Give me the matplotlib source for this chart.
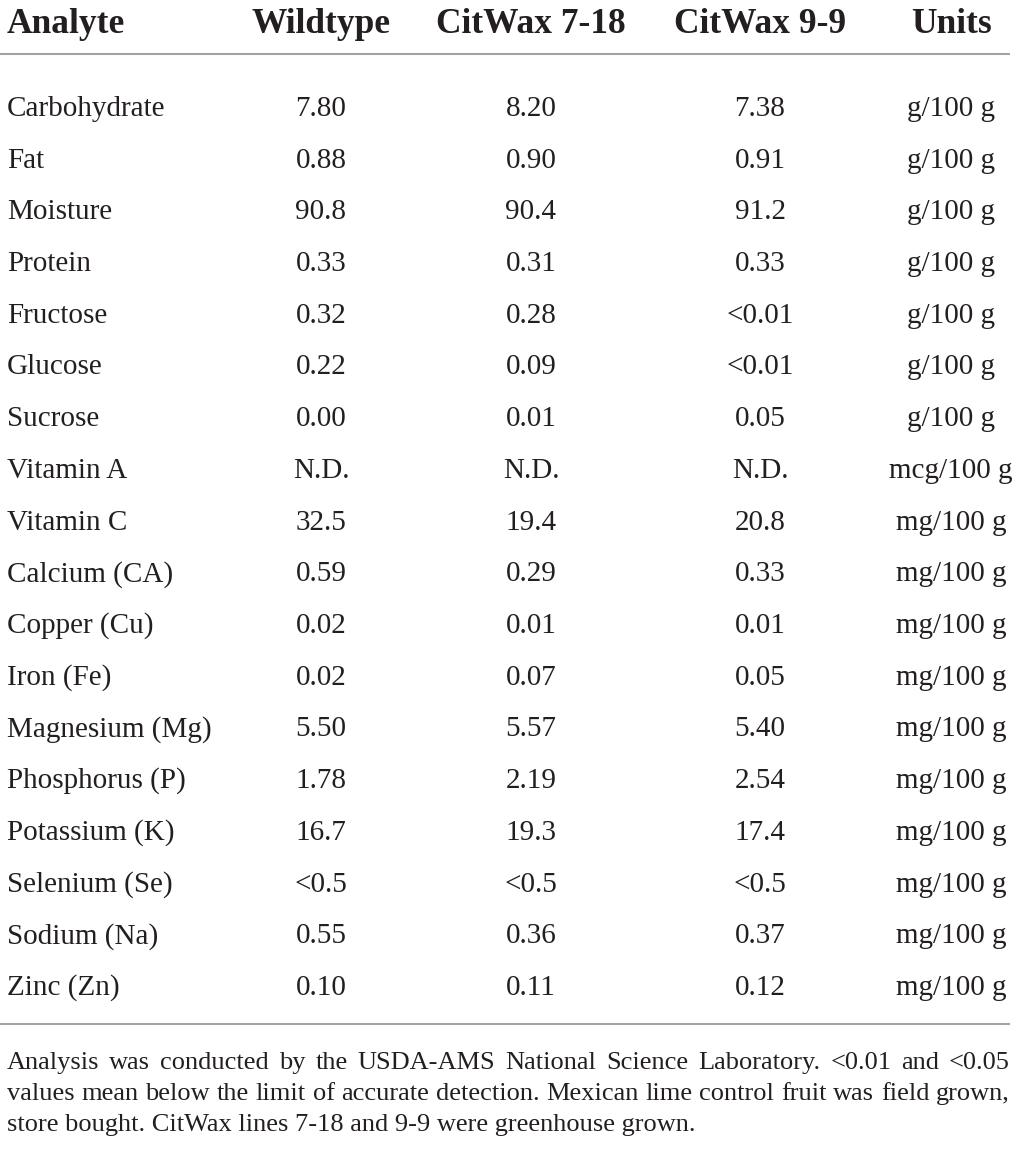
import matplotlib
matplotlib.use("Agg")
import matplotlib.pyplot as plt

headers = ["Analyte", "Wildtype", "CitWax 7-18", "CitWax 9-9", "Units"]
analytes = ["Carbohydrate", "Fat", "Moisture", "Protein", "Fructose", "Glucose",
            "Sucrose", "Vitamin A", "Vitamin C", "Calcium (CA)", "Copper (Cu)",
            "Iron (Fe)", "Magnesium (Mg)", "Phosphorus (P)", "Potassium (K)",
            "Selenium (Se)", "Sodium (Na)", "Zinc (Zn)"]
wildtype = ["7.80", "0.88", "90.8", "0.33", "0.32", "0.22", "0.00", "N.D.", "32.5",
            "0.59", "0.02", "0.02", "5.50", "1.78", "16.7", "<0.5", "0.55", "0.10"]
citwax_7_18 = ["8.20", "0.90", "90.4", "0.31", "0.28", "0.09", "0.01", "N.D.", "19.4",
               "0.29", "0.01", "0.07", "5.57", "2.19", "19.3", "<0.5", "0.36", "0.11"]
citwax_9_9 = ["7.38", "0.91", "91.2", "0.33", "<0.01", "<0.01", "0.05", "N.D.", "20.8",
              "0.33", "0.01", "0.05", "5.40", "2.54", "17.4", "<0.5", "0.37", "0.12"]
units = ["g/100 g"] * 7 + ["mcg/100 g"] + ["mg/100 g"] * 10
footnote_lines = [
    "Analysis was conducted by the USDA-AMS National Science Laboratory.  <0.01 and <0.05",
    "values mean below the limit of accurate detection. Mexican lime control fruit was field grown,",
    "store bought. CitWax lines 7-18 and 9-9 were greenhouse grown.",
]

W, H = 1017, 1153
fig = plt.figure(figsize=(W / 100, H / 100), dpi=100)
ax = fig.add_axes([0, 0, 1, 1])
ax.set_xlim(0, W)
ax.set_ylim(H, 0)
ax.axis("off")

txt = "#231f20"
serif = ["Liberation Serif", "DejaVu Serif"]
line_c = "#a3a3a3"

col_x = [7, 321, 531, 760, 951]
aligns = ["left", "center", "center", "center", "center"]

# header
for h, x, a in zip(headers, col_x, aligns):
    ax.text(x, 33, h, ha=a, va="baseline", fontsize=25.5, fontweight="bold",
            family=serif, color=txt)
ax.plot([0, 1010], [54, 54], color=line_c, lw=1.5, solid_capstyle="butt")

row0 = 116
dy = 51.7
cols = [analytes, wildtype, citwax_7_18, citwax_9_9, units]
for i in range(len(analytes)):
    y = row0 + i * dy
    for c, x, a in zip(cols, col_x, aligns):
        ax.text(x, y, c[i], ha=a, va="baseline", fontsize=21, family=serif, color=txt)

ax.plot([0, 1010], [1024, 1024], color=line_c, lw=1.5, solid_capstyle="butt")

# footnote, justified
fig.canvas.draw()
renderer = fig.canvas.get_renderer()
left, right = 7, 1010
fy = [1069, 1100, 1131]
fs = 19
for li, (line, y) in enumerate(zip(footnote_lines, fy)):
    if li == len(footnote_lines) - 1:
        ax.text(left, y, line, ha="left", va="baseline", fontsize=fs, family=serif, color=txt)
        continue
    words = [w for w in line.split(" ") if w]
    widths = []
    for w in words:
        t = ax.text(0, 0, w, fontsize=fs, family=serif)
        bb = t.get_window_extent(renderer)
        widths.append(bb.width)
        t.remove()
    gap = (right - left - sum(widths)) / (len(words) - 1)
    x = left
    for w, wd in zip(words, widths):
        ax.text(x, y, w, ha="left", va="baseline", fontsize=fs, family=serif, color=txt)
        x += wd + gap

fig.savefig("out.png", dpi=100)
